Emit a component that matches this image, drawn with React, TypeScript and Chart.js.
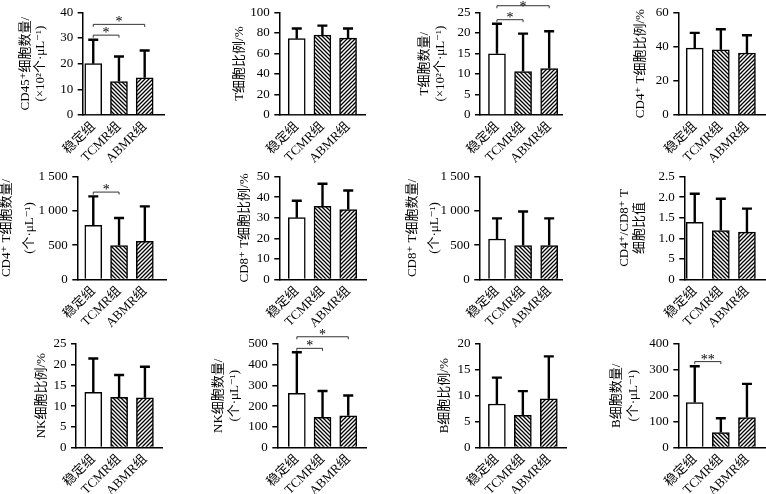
import React, { useEffect, useRef } from 'react';
import { Chart, registerables } from 'chart.js';

Chart.register(...registerables);

const FONT = "'Liberation Serif', 'Noto Sans CJK SC', 'DejaVu Serif', serif";

const categories = ['稳定组', 'TCMR组', 'ABMR组'];

// Bar means and upper error (SD) per panel
const cd45Mean = [20, 13, 14.5];
const cd45Sd = [9.3, 9.8, 10.6];
const tPctMean = [74.3, 77.8, 74.8];
const tPctSd = [9.9, 9.2, 9.4];
const tCountMean = [14.9, 10.6, 11.3];
const tCountSd = [7.3, 9.2, 9.1];
const cd4PctMean = [39.1, 38.1, 36.2];
const cd4PctSd = [8.9, 12, 10.4];
const cd4CountMean = [790, 495, 555];
const cd4CountSd = [420, 400, 510];
const cd8PctMean = [30, 35.5, 34];
const cd8PctSd = [8.2, 11, 9.2];
const cd8CountMean = [590, 495, 495];
const cd8CountSd = [300, 495, 395];
const ratioMean = [1.39, 1.19, 1.15];
const ratioSd = [0.69, 0.77, 0.57];
const nkPctMean = [13.3, 12.1, 12.0];
const nkPctSd = [8.2, 5.4, 7.5];
const nkCountMean = [262, 146, 153];
const nkCountSd = [198, 127, 98];
const bPctMean = [8.4, 6.2, 9.4];
const bPctSd = [5.1, 4.7, 8.2];
const bCountMean = [174, 58, 116];
const bCountSd = [140, 55, 130];

// y-axis tick labels
const ticks40 = ['0', '10', '20', '30', '40'];
const ticks100 = ['0', '20', '40', '60', '80', '100'];
const ticks25 = ['0', '5', '10', '15', '20', '25'];
const ticks60 = ['0', '20', '40', '60'];
const ticks1500 = ['0', '500', '1 000', '1 500'];
const ticks50 = ['0', '10', '20', '30', '40', '50'];
const ticksRatio = ['0', '5', '1.0', '1.5', '2.0', '2.5'];
const ticks500 = ['0', '100', '200', '300', '400', '500'];
const ticks20 = ['0', '5', '10', '15', '20'];
const ticks400 = ['0', '100', '200', '300', '400'];

// significance brackets: [from, to, y value, label]
const cd45Sig = [[0, 1, 31.1, '*'], [0, 2, 35.3, '*']];
const tCountSig = [[0, 1, 23.2, '*'], [0, 2, 26.6, '*']];
const cd4CountSig = [[0, 1, 1273, '*']];
const nkCountSig = [[0, 1, 479, '*'], [0, 2, 535, '*']];
const bCountSig = [[0, 1, 332, '**']];

const rows = [
  { cy: 0, ch: 163, t: 12, b: 115 },
  { cy: 163, ch: 167, t: 176.5, b: 279.5 },
  { cy: 325, ch: 169, t: 344, b: 447.5 },
];
const cols = [0, 190, 380, 570];

const panels = [
  { row: 0, col: 0, l: 82.7, r: 165, xMin: -0.41, xMax: 2.79, mean: cd45Mean, sd: cd45Sd, max: 40, step: 10, yTicks: ticks40, title: ['CD45⁺细胞数量/', '(×10²个·μL⁻¹)'], tx: 26, lh: 15, sig: cd45Sig },
  { row: 0, col: 1, l: 279.3, r: 366, xMin: -0.68, xMax: 2.7, mean: tPctMean, sd: tPctSd, max: 100, step: 20, yTicks: ticks100, title: 'T细胞比例/%', tx: 240, lh: 15, sig: [] },
  { row: 0, col: 2, l: 480, r: 562.7, xMin: -0.65, xMax: 2.53, mean: tCountMean, sd: tCountSd, max: 25, step: 5, yTicks: ticks25, title: ['T细胞数量/', '(×10²个·μL⁻¹)'], tx: 425, lh: 16, sig: tCountSig },
  { row: 0, col: 3, l: 678.3, r: 766, xMin: -0.63, xMax: 2.73, mean: cd4PctMean, sd: cd4PctSd, max: 60, step: 20, yTicks: ticks60, title: 'CD4⁺ T细胞比例/%', tx: 641, lh: 15, sig: [] },
  { row: 1, col: 0, l: 77.3, r: 166.7, xMin: -0.62, xMax: 2.86, mean: cd4CountMean, sd: cd4CountSd, max: 1500, step: 500, yTicks: ticks1500, title: ['CD4⁺ T细胞数量/', '(个·μL⁻¹)'], tx: 7, lh: 23, sig: cd4CountSig },
  { row: 1, col: 1, l: 279.3, r: 366.7, xMin: -0.68, xMax: 2.73, mean: cd8PctMean, sd: cd8PctSd, max: 50, step: 10, yTicks: ticks50, title: 'CD8⁺ T细胞比例/%', tx: 245, lh: 15, sig: [] },
  { row: 1, col: 2, l: 479.3, r: 562.7, xMin: -0.68, xMax: 2.53, mean: cd8CountMean, sd: cd8CountSd, max: 1500, step: 500, yTicks: ticks1500, title: ['CD8⁺ T细胞数量/', '(个·μL⁻¹)'], tx: 413, lh: 22, sig: [] },
  { row: 1, col: 3, l: 684.3, r: 766, xMin: -0.4, xMax: 2.73, mean: ratioMean, sd: ratioSd, max: 2.5, step: 0.5, yTicks: ticksRatio, title: ['CD4⁺/CD8⁺ T', '细胞比值'], tx: 625, lh: 15, sig: [] },
  { row: 2, col: 0, l: 76, r: 162.7, xMin: -0.67, xMax: 2.7, mean: nkPctMean, sd: nkPctSd, max: 25, step: 5, yTicks: ticks25, title: 'NK细胞比例/%', tx: 42, lh: 15, sig: [] },
  { row: 2, col: 1, l: 277.3, r: 366.7, xMin: -0.76, xMax: 2.73, mean: nkCountMean, sd: nkCountSd, max: 500, step: 100, yTicks: ticks500, title: ['NK细胞数量/', '(个·μL⁻¹)'], tx: 219, lh: 16, sig: nkCountSig },
  { row: 2, col: 2, l: 480, r: 567.3, xMin: -0.65, xMax: 2.7, mean: bPctMean, sd: bPctSd, max: 20, step: 5, yTicks: ticks20, title: 'B细胞比例/%', tx: 445, lh: 15, sig: [] },
  { row: 2, col: 3, l: 678.3, r: 766, xMin: -0.63, xMax: 2.73, mean: bCountMean, sd: bCountSd, max: 400, step: 100, yTicks: ticks400, title: ['B细胞数量/', '(个·μL⁻¹)'], tx: 617, lh: 17, sig: bCountSig },
];

function hatch(ctx: CanvasRenderingContext2D, dir: 'back' | 'fwd') {
  const s = 4;
  const c = document.createElement('canvas');
  c.width = s;
  c.height = s;
  const g = c.getContext('2d')!;
  g.fillStyle = '#ffffff';
  g.fillRect(0, 0, s, s);
  g.strokeStyle = '#000';
  g.lineWidth = 1.3;
  g.beginPath();
  if (dir === 'back') {
    g.moveTo(-1, -1); g.lineTo(s + 1, s + 1);
    g.moveTo(-1, s - 1); g.lineTo(1, s + 1);
    g.moveTo(s - 1, -1); g.lineTo(s + 1, 1);
  } else {
    g.moveTo(-1, s + 1); g.lineTo(s + 1, -1);
    g.moveTo(-1, 1); g.lineTo(1, -1);
    g.moveTo(s - 1, s + 1); g.lineTo(s + 1, s - 1);
  }
  g.stroke();
  return ctx.createPattern(c, 'repeat');
}

function overlay(p: any) {
  return {
    id: 'errSig',
    afterDatasetsDraw(chart: any) {
      const { ctx } = chart;
      const ys = chart.scales.y;
      const bars = chart.getDatasetMeta(0).data;
      ctx.save();
      ctx.strokeStyle = '#000';
      ctx.lineWidth = 2.4;
      bars.forEach((bar: any, i: number) => {
        const yTop = ys.getPixelForValue(p.mean[i] + p.sd[i]);
        ctx.beginPath();
        ctx.moveTo(bar.x, bar.y);
        ctx.lineTo(bar.x, yTop);
        ctx.moveTo(bar.x - 5, yTop);
        ctx.lineTo(bar.x + 5, yTop);
        ctx.stroke();
      });
      ctx.lineWidth = 1;
      ctx.strokeStyle = '#333';
      ctx.fillStyle = '#000';
      ctx.font = `14px ${FONT}`;
      ctx.textAlign = 'center';
      ctx.textBaseline = 'alphabetic';
      p.sig.forEach((s: any) => {
        const x1 = bars[s[0]].x;
        const x2 = bars[s[1]].x;
        const y = ys.getPixelForValue(s[2]);
        ctx.beginPath();
        ctx.moveTo(x1, y + 2.5);
        ctx.lineTo(x1, y);
        ctx.lineTo(x2, y);
        ctx.lineTo(x2, y + 2.5);
        ctx.stroke();
        ctx.fillText(s[3], (x1 + x2) / 2, Math.max(y + 2, 10.5));
      });
      ctx.restore();
    },
  };
}

function Panel({ p }: { p: any }) {
  const ref = useRef<HTMLCanvasElement>(null);
  const row = rows[p.row];
  const cx = cols[p.col];
  const cw = Math.round(p.r - cx);
  const ch = row.ch;
  useEffect(() => {
    const canvas = ref.current!;
    const ctx = canvas.getContext('2d')!;
    const fills = ['#ffffff', hatch(ctx, 'back'), hatch(ctx, 'fwd')];
    const yWidth = p.l - cx;
    const xHeight = row.cy + ch - row.b;
    const chart = new Chart(canvas, {
      type: 'bar',
      data: {
        datasets: [
          {
            data: p.mean.map((v: number, i: number) => ({ x: i, y: v })),
            backgroundColor: fills as any,
            borderColor: '#000',
            borderWidth: 1.5,
            barThickness: 17,
          },
        ],
      },
      options: {
        responsive: false,
        animation: false,
        events: [],
        layout: { padding: { top: row.t - row.cy, left: 0, right: 0, bottom: 0 } },
        plugins: { legend: { display: false }, tooltip: { enabled: false } },
        scales: {
          x: {
            type: 'linear',
            min: p.xMin,
            max: p.xMax,
            offset: false,
            grid: { display: false, drawTicks: false },
            border: { display: true, color: '#000', width: 1.5 },
            afterBuildTicks: (s: any) => {
              s.ticks = categories.map((_, i) => ({ value: i }));
            },
            afterFit: (s: any) => {
              s.height = xHeight;
              s.paddingLeft = 0;
              s.paddingRight = 0;
            },
            ticks: {
              autoSkip: false,
              minRotation: 45,
              maxRotation: 45,
              padding: 4,
              color: '#000',
              font: { family: FONT, size: 13 },
              callback: (v: any) => categories[v] ?? '',
            },
          } as any,
          y: {
            min: 0,
            max: p.max,
            ticks: {
              stepSize: p.step,
              color: '#000',
              padding: 4.5,
              font: { family: FONT, size: 13 },
              callback: (_v: any, i: number) => p.yTicks[i],
            },
            grid: { drawOnChartArea: false, drawTicks: true, tickLength: 5, color: '#000', lineWidth: 1.5 },
            border: { display: true, color: '#000', width: 1.5 },
            title: {
              display: true,
              text: p.title,
              color: '#000',
              font: { family: FONT, size: 13, lineHeight: p.lh / 13 },
              padding: { top: p.tx - cx - p.lh / 2, bottom: 0 },
            },
            afterFit: (s: any) => {
              s.width = yWidth;
            },
          } as any,
        },
      },
      plugins: [overlay(p)],
    });
    return () => chart.destroy();
  }, []);
  return (
    <canvas
      ref={ref}
      width={cw}
      height={ch}
      style={{ position: 'absolute', left: cx, top: row.cy, width: cw, height: ch }}
    />
  );
}

export default function App() {
  return (
    <div style={{ position: 'absolute', left: 0, top: 0, width: 766, height: 494, background: '#fff', overflow: 'hidden' }}>
      {panels.map((p, i) => (
        <Panel key={i} p={p} />
      ))}
    </div>
  );
}
